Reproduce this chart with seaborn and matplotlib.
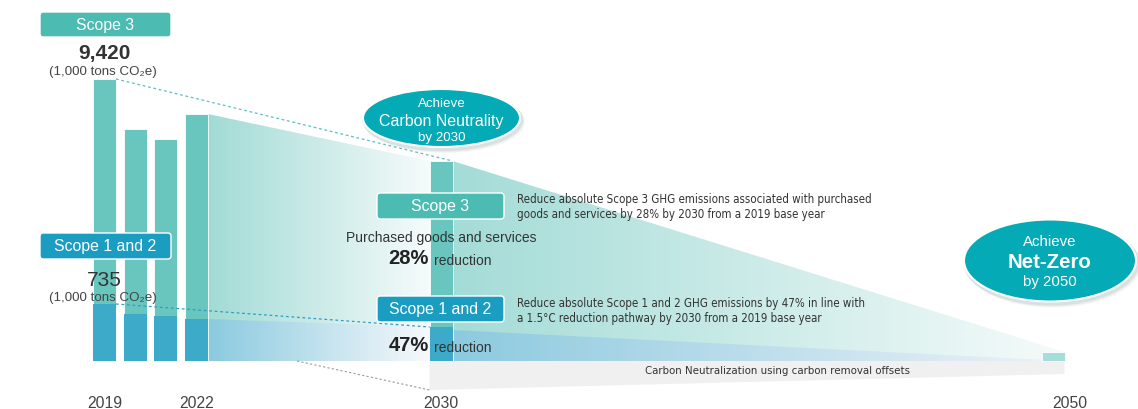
import numpy as np
import matplotlib
matplotlib.use("Agg")
import matplotlib.pyplot as plt
from matplotlib.patches import Polygon, FancyBboxPatch, Ellipse
from matplotlib.colors import to_rgb
import seaborn as sns
import pandas as pd

# ---------------- data (display heights of the stylised bars) ----------------
years = [2019, 2020, 2021, 2022, 2030, 2050]
total_height = [282, 232, 222, 247, 200, 9]      # Scope 1+2+3 bar height
scope12_height = [57, 47, 45, 42, 34, 0]         # Scope 1 and 2 part
bar_colors = ["#69c6bf", "#69c6bf", "#69c6bf", "#69c6bf", "#69c6bf", "#a6ddd8"]
tick_years = [2019, 2022, 2030, 2050]
scope3_value = "9,420"
scope12_value = "735"
unit_label = "(1,000 tons CO₂e)"
scope3_target = ["Reduce absolute Scope 3 GHG emissions associated with purchased",
                 "goods and services by 28% by 2030 from a 2019 base year"]
scope12_target = ["Reduce absolute Scope 1 and 2 GHG emissions by 47% in line with",
                  "a 1.5°C reduction pathway by 2030 from a 2019 base year"]
scope3_reduction = "28%"
scope12_reduction = "47%"
offset_label = "Carbon Neutralization using carbon removal offsets"

sns.set_theme(style="white")
plt.rcParams['font.family'] = ['Liberation Sans', 'DejaVu Sans']
NARROW = dict(family='DejaVu Sans', fontstretch='condensed')

W, H = 1138, 410
fig = plt.figure(figsize=(W / 100, H / 100), dpi=100)
ax = fig.add_axes([0, 0, 1, 1])

PX_PER_YEAR = 30.6
def X(px):
    return 2019 + (px - 104.5) / PX_PER_YEAR
def Y(py):
    return 362 - py
def DX(px):
    return px / PX_PER_YEAR

BW = 0.75
df = pd.DataFrame({"year": years, "total": total_height, "s12": scope12_height})

# ---------------- gradient wedges ----------------
def grad_poly(pts, c0, c1, z):
    poly = Polygon(pts, closed=True, facecolor="none", edgecolor="none")
    ax.add_patch(poly)
    xs = [p[0] for p in pts]; ys = [p[1] for p in pts]
    n = 256
    a = np.array(to_rgb(c0)); b = np.array(to_rgb(c1))
    t = np.linspace(0, 1, n)[None, :, None]
    img = a[None, None, :] * (1 - t) + b[None, None, :] * t
    img = np.repeat(img, 2, axis=0)
    im = ax.imshow(img, extent=[min(xs), max(xs), min(ys), max(ys)], origin="lower",
                   aspect="auto", zorder=z, interpolation="bilinear")
    im.set_clip_path(poly)

i22, i30, i50 = years.index(2022), years.index(2030), years.index(2050)
x22r = 2022 + BW / 2
x30l, x30r = 2030 - BW / 2, 2030 + BW / 2
x50r = 2050 + BW / 2

grad_poly([(x22r, 0), (x22r, total_height[i22]), (x30l, total_height[i30]), (x30l, 0)],
          "#a2dbd5", "#f6fbfb", 1)
grad_poly([(x22r, 0), (x22r, scope12_height[i22]), (x30l, scope12_height[i30]), (x30l, 0)],
          "#8bcadf", "#f7f9fc", 1.1)
grad_poly([(x30r, 0), (x30r, total_height[i30]), (x50r, total_height[i50]), (x50r, 0)],
          "#a4dcd7", "#f5fbfa", 1)
grad_poly([(x30r, 0), (x30r, scope12_height[i30] - 3), (x50r, 0)],
          "#8dcadf", "#eef2f8", 1.1)

# grey offset band
ax.add_patch(Polygon([(x30l, 0), (x50r, 0), (x50r, Y(375)), (x30l, Y(391))],
                     closed=True, facecolor="#f0f0f0", edgecolor="none", zorder=1))

# ---------------- bars (seaborn) ----------------
sns.barplot(data=df, x="year", y="total", hue="year", palette=bar_colors,
            native_scale=True, width=BW, errorbar=None, legend=False, saturation=1,
            edgecolor="white", linewidth=0.6, ax=ax)
sns.barplot(data=df[df["s12"] > 0], x="year", y="s12", color="#3caac8",
            native_scale=True, width=BW, errorbar=None, saturation=1,
            edgecolor="none", linewidth=0, ax=ax)
for p in ax.patches:
    p.set_zorder(2)

ax.set_xlim(X(0), X(W))
ax.set_ylim(Y(H), Y(0))
ax.axis("off")

# ---------------- dashed guide lines ----------------
x19r = 2019 + BW / 2
ax.plot([x19r, x30r], [total_height[0], total_height[i30]], ls=(0, (2.2, 2.2)),
        color="#58bfc0", lw=0.9, zorder=3)
ax.plot([x19r, x30l], [scope12_height[0], scope12_height[i30]], ls=(0, (2.2, 2.2)),
        color="#2a9fc6", lw=0.9, zorder=3)
ax.plot([X(297), x30l], [Y(362), Y(391)], ls=(0, (2, 2)), color="#999999", lw=0.8, zorder=3)

# ---------------- label boxes ----------------
def box(x0, y0, x1, y1, color, label, size=11.4):
    bb = FancyBboxPatch((X(x0), Y(y1)), DX(x1 - x0), y1 - y0,
                        boxstyle="round,pad=0,rounding_size=0.11",
                        mutation_aspect=PX_PER_YEAR,
                        facecolor=color, edgecolor="white", lw=1.0, zorder=4)
    ax.add_patch(bb)
    ax.text(X((x0 + x1) / 2), Y((y0 + y1) / 2), label, color="white", fontsize=size,
            ha="center", va="center", zorder=5)

box(40, 13, 171, 38, "#4cbbb2", "Scope 3")
box(40, 234, 171, 260, "#1a9dc1", "Scope 1 and 2")
box(377, 194, 504, 220, "#4cbbb2", "Scope 3")
box(377, 297, 504, 323, "#1a9dc1", "Scope 1 and 2")

txt = "#333333"
ax.text(X(104), Y(53), scope3_value, fontsize=15, fontweight="bold", color=txt,
        ha="center", va="center", zorder=5)
ax.text(X(103), Y(72), unit_label, fontsize=9.6, color="#444444", ha="center",
        va="center", zorder=5)
ax.text(X(104), Y(281), scope12_value, fontsize=15, color=txt, ha="center",
        va="center", zorder=5)
ax.text(X(103), Y(298), unit_label, fontsize=9.6, color="#444444", ha="center",
        va="center", zorder=5)

# target descriptions
for i, line in enumerate(scope3_target):
    ax.text(X(517), Y(200 + 14.5 * i), line, fontsize=8.3, color=txt,
            ha="left", va="center", zorder=5, **NARROW)
for i, line in enumerate(scope12_target):
    ax.text(X(517), Y(304 + 14.5 * i), line, fontsize=8.3, color=txt,
            ha="left", va="center", zorder=5, **NARROW)

ax.text(X(441), Y(238), "Purchased goods and services", fontsize=10, color=txt,
        ha="center", va="center", zorder=5)
ax.text(X(429), Y(259), scope3_reduction, fontsize=14.5, fontweight="bold", color="#222222",
        ha="right", va="center", zorder=5)
ax.text(X(434), Y(261), "reduction", fontsize=10, color=txt, ha="left", va="center", zorder=5)
ax.text(X(429), Y(346), scope12_reduction, fontsize=14.5, fontweight="bold", color="#222222",
        ha="right", va="center", zorder=5)
ax.text(X(434), Y(348), "reduction", fontsize=10, color=txt, ha="left", va="center", zorder=5)

ax.text(X(778), Y(371), offset_label, fontsize=8.2, color=txt,
        ha="center", va="center", zorder=5, **NARROW)

# ---------------- ellipses ----------------
def bubble(cx, cy, w, h, lines):
    for (dx, dy, a) in [(3, 4, 0.06), (2, 3, 0.08), (1, 2, 0.10)]:
        ax.add_patch(Ellipse((X(cx + dx), Y(cy + dy)), DX(w + 4), h + 4,
                             facecolor="#557777", alpha=a, edgecolor="none", zorder=5.5))
    ax.add_patch(Ellipse((X(cx), Y(cy)), DX(w), h, facecolor="#04aab6",
                         edgecolor="white", lw=1.5, zorder=6))
    for (t, yy, s, wgt) in lines:
        ax.text(X(cx), Y(yy), t, fontsize=s, fontweight=wgt, color="white",
                ha="center", va="center", zorder=7)

bubble(441.5, 119, 157, 58, [("Achieve", 104, 9.6, "normal"),
                             ("Carbon Neutrality", 121.5, 11.5, "normal"),
                             ("by 2030", 138, 9.6, "normal")])
bubble(1050, 261.5, 172, 82, [("Achieve", 242, 10.8, "normal"),
                              ("Net-Zero", 263, 14.7, "bold"),
                              ("by 2050", 282, 10.8, "normal")])

# ---------------- year labels ----------------
label_offsets = {2019: 0, 2022: 0, 2030: 0, 2050: 17}
for yr in tick_years:
    ax.text(yr + DX(label_offsets[yr]), Y(404), str(yr), fontsize=11.3, color="#444444",
            ha="center", va="center", zorder=5)

fig.savefig("out.png", dpi=100)
